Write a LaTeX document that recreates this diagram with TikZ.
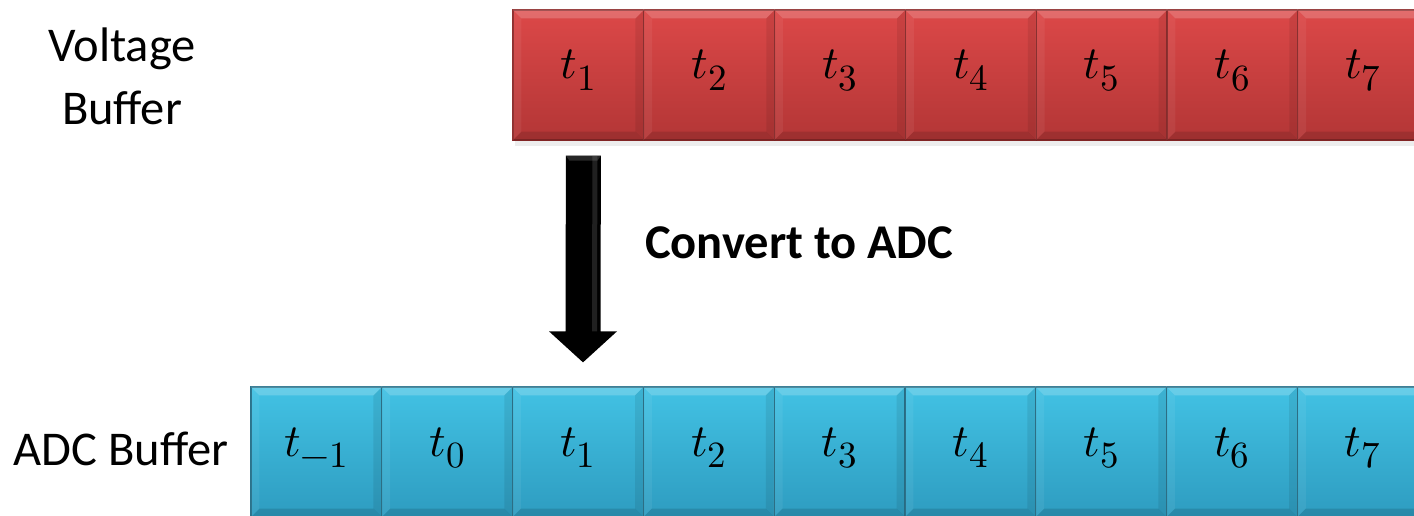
\documentclass[tikz,border=0pt]{standalone}
\usepackage{fontspec}
\usepackage{unicode-math}
\setmainfont{Carlito}
\setmathfont{Latin Modern Math}
\DeclareMathSizes{46}{46}{37}{30}
\usetikzlibrary{calc}
\definecolor{redtop}{HTML}{DC4848}
\definecolor{redbot}{HTML}{B33636}
\definecolor{redline}{HTML}{8C2828}
\definecolor{bluetop}{HTML}{42C2E4}
\definecolor{bluebot}{HTML}{2E9CC0}
\definecolor{blueline}{HTML}{226E88}
\begin{document}
\begin{tikzpicture}[x=1pt,y=-1pt,
  every node/.style={font=\fontsize{48.5}{63}\selectfont},
  cell/.style={rectangle, minimum width=130.8pt, minimum height=130pt, inner sep=0pt,
    text height=8pt, text depth=0pt, line width=1.3pt, font=\fontsize{46}{55}\selectfont},
  redcell/.style={cell, top color=redtop, bottom color=redbot, draw=redline},
  bluecell/.style={cell, top color=bluetop, bottom color=bluebot, draw=blueline},
  lbl/.style={align=center, inner sep=0pt},
]
\useasboundingbox (0,0) rectangle (1414,516);
\begin{scope}
\clip (0,0) rectangle (1414,516);
% shadow under red buffer
\fill[black,opacity=.07] (515,141) rectangle (1414,146);
% red cells
\foreach \i in {1,...,7}
  \node[redcell] (r\i) at ({513+130.8*(\i-1)+65.4},75) {$t_{\i}$};
% blue cells
\foreach \i/\lab in {1/-1,2/0,3/1,4/2,5/3,6/4,7/5,8/6,9/7}
  \node[bluecell] (b\i) at ({251+130.8*(\i-1)+65.4},452) {$t_{\lab}$};
% bevels
\foreach \n in {r1,r2,r3,r4,r5,r6,r7,b1,b2,b3,b4,b5,b6,b7,b8,b9}{
  \fill[white,opacity=.20] (\n.north west) -- (\n.north east) -- ([shift={(-9pt,-9pt)}]\n.north east) -- ([shift={(9pt,-9pt)}]\n.north west) -- cycle;
  \fill[white,opacity=.06] (\n.north west) -- ([shift={(9pt,-9pt)}]\n.north west) -- ([shift={(9pt,9pt)}]\n.south west) -- (\n.south west) -- cycle;
  \fill[black,opacity=.08] (\n.north east) -- ([shift={(-9pt,-9pt)}]\n.north east) -- ([shift={(-9pt,9pt)}]\n.south east) -- (\n.south east) -- cycle;
  \fill[black,opacity=.12] (\n.south west) -- ([shift={(9pt,9pt)}]\n.south west) -- ([shift={(-9pt,9pt)}]\n.south east) -- (\n.south east) -- cycle;
}
\end{scope}
% arrow
\coordinate (atop) at ($(r1.south)+(5pt,-15pt)$);
\coordinate (atip) at ($(b3.north)+(5pt,24pt)$);
\fill[black] ([xshift=-17.5pt]atop) -- ([xshift=17.5pt]atop) -- ([shift={(17.5pt,31pt)}]atip) -- ([shift={(34pt,31pt)}]atip) -- (atip) -- ([shift={(-34pt,31pt)}]atip) -- ([shift={(-17.5pt,31pt)}]atip) -- cycle;
\fill[gray,opacity=.25] ([xshift=9pt]atop) -- ([xshift=14pt]atop) -- ([shift={(14pt,31pt)}]atip) -- ([shift={(9pt,31pt)}]atip) -- cycle;
\fill[gray,opacity=.3] ([xshift=-17.5pt]atop) -- ([xshift=17.5pt]atop) -- ([shift={(14pt,-5pt)}]atop) -- ([shift={(-14pt,-5pt)}]atop) -- cycle;
% labels
\node[lbl] (vb) at (122,76) {Voltage\\Buffer};
\node[lbl, anchor=base] (ab) at (121,465) {ADC Buffer};
\node[lbl, anchor=base west, font=\fontsize{48.5}{55}\selectfont\bfseries] (cv) at (645,258) {Convert to ADC};
\end{tikzpicture}
\end{document}
